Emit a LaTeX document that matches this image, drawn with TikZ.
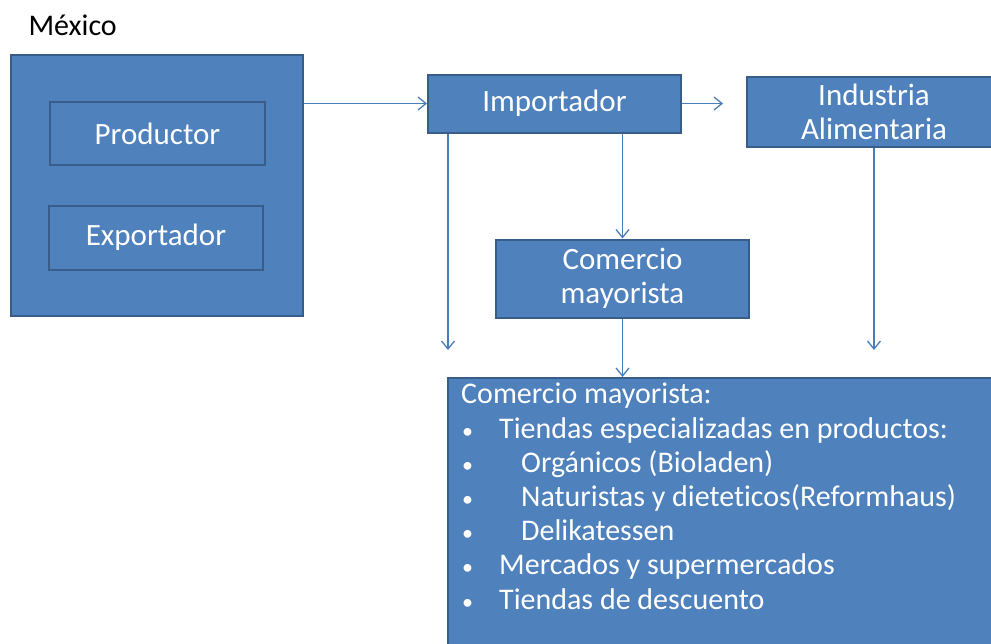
\documentclass[tikz,border=0pt]{standalone}
\usepackage{fontspec}
\setmainfont{Carlito}[Ligatures={NoCommon}]
\usetikzlibrary{arrows.meta,positioning}
\definecolor{boxblue}{HTML}{4F81BD}
\definecolor{boxedge}{HTML}{385D8A}
\definecolor{lineblue}{HTML}{4A7EBB}
\newcommand{\vineta}[2]{\makebox[#1][l]{\hspace{1pt}{\fontsize{22}{22}\selectfont•}}#2}

\begin{document}
\begin{tikzpicture}[x=1pt, y=-1pt,
    caja/.style={draw=boxedge, fill=boxblue, line width=2pt, text=white, font=\fontsize{31}{34}\selectfont, align=center, inner sep=0pt},
    flecha/.style={-{Straight Barb[length=8pt,width=13pt]}, lineblue, line width=1.3pt}
]
    \useasboundingbox (0,0) rectangle (991,643);
    \clip (0,0) rectangle (991,643);

    % origen
    \node[anchor=base west, font=\fontsize{30}{33}\selectfont] (titulo) at (25,35) {México};
    \node[caja, minimum width=292, minimum height=261] (mexico) at (157,185.5) {};
    \node[caja, minimum width=215, minimum height=63] (productor) at (157.5,133.5) {Productor};
    \node[caja, minimum width=214, minimum height=64] (exportador) at (156,237.5) {Exportador};

    % destino
    \node[caja, minimum width=253, minimum height=58] (importador) at (554.5,103.5) {Importador};
    \node[caja, minimum width=254, minimum height=70] (industria) at (874,112) {Industria\\Alimentaria};
    \node[caja, minimum width=253, minimum height=78] (comercio) at (622.5,278.5) {Comercio\\mayorista};
    \node[caja, anchor=north west, minimum width=563, minimum height=323] (lista) at (447,377) {};
    \node[anchor=north west, align=left, text=white, inner sep=0pt, font=\fontsize{30}{34.2}\selectfont] (texto) at (461,383) {%
        Comercio mayorista:\\
        \vineta{38pt}{Tiendas especializadas en productos:}\\
        \vineta{60pt}{Orgánicos (Bioladen)}\\
        \vineta{60pt}{Naturistas y dieteticos(Reformhaus)}\\
        \vineta{60pt}{Delikatessen}\\
        \vineta{38pt}{Mercados y supermercados}\\
        \vineta{38pt}{Tiendas de descuento}};

    \coordinate (finind) at (723,0);
    \coordinate (finizq) at (448,350);
    \coordinate (finder) at (874,350);

    \draw[flecha] (mexico.east |- importador.west) -- (importador.west);
    \draw[flecha] (importador.east) -- (finind |- importador.east);
    \draw[flecha] (importador.south -| finizq) -- (finizq);
    \draw[flecha] (importador.south -| comercio.north) -- (comercio.north);
    \draw[flecha] (industria.south) -- (finder);
    \draw[flecha] (comercio.south) -- (comercio.south |- lista.north);
\end{tikzpicture}
\end{document}
